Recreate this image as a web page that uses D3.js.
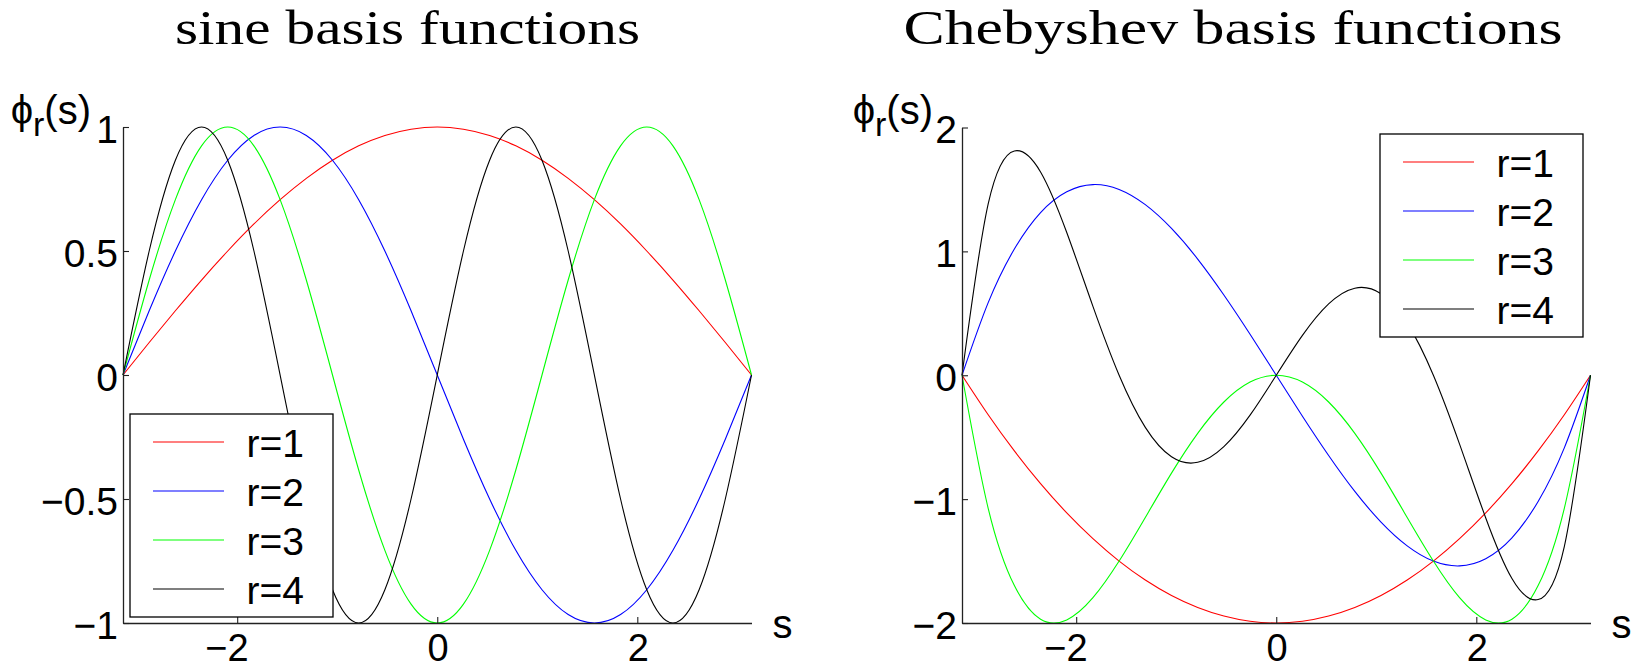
<!DOCTYPE html>
<html>
<head>
<meta charset="utf-8">
<script src="https://cdn.jsdelivr.net/npm/d3@7"></script>
<style>
  html, body { margin: 0; padding: 0; background: #ffffff; }
  svg { display: block; }
</style>
</head>
<body>
<svg id="fig" width="1637" height="669"></svg>
<script>
// Sample positions along s (from -pi to pi)
const sGrid = [-3.1416, -2.8798, -2.6180, -2.3562, -2.0944, -1.8326, -1.5708, -1.3090, -1.0472,
  -0.7854, -0.5236, -0.2618, 0, 0.2618, 0.5236, 0.7854, 1.0472, 1.3090, 1.5708, 1.8326, 2.0944,
  2.3562, 2.6180, 2.8798, 3.1416];

// Sine basis functions, r = 1..4
const sineR1 = [0, 0.131, 0.259, 0.383, 0.500, 0.609, 0.707, 0.793, 0.866, 0.924, 0.966, 0.991, 1.000,
  0.991, 0.966, 0.924, 0.866, 0.793, 0.707, 0.609, 0.500, 0.383, 0.259, 0.131, 0];
const sineR2 = [0, 0.259, 0.500, 0.707, 0.866, 0.966, 1.000, 0.966, 0.866, 0.707, 0.500, 0.259, 0,
  -0.259, -0.500, -0.707, -0.866, -0.966, -1.000, -0.966, -0.866, -0.707, -0.500, -0.259, 0];
const sineR3 = [0, 0.383, 0.707, 0.924, 1.000, 0.924, 0.707, 0.383, 0, -0.383, -0.707, -0.924, -1.000,
  -0.924, -0.707, -0.383, 0, 0.383, 0.707, 0.924, 1.000, 0.924, 0.707, 0.383, 0];
const sineR4 = [0, 0.500, 0.866, 1.000, 0.866, 0.500, 0, -0.500, -0.866, -1.000, -0.866, -0.500, 0,
  0.500, 0.866, 1.000, 0.866, 0.500, 0, -0.500, -0.866, -1.000, -0.866, -0.500, 0];

// Chebyshev basis functions, r = 1..4
const chebR1 = [0, -0.319, -0.611, -0.875, -1.111, -1.319, -1.500, -1.653, -1.778, -1.875, -1.944, -1.986, -2.000,
  -1.986, -1.944, -1.875, -1.778, -1.653, -1.500, -1.319, -1.111, -0.875, -0.611, -0.319, 0];
const chebR2 = [0, 0.586, 1.019, 1.313, 1.481, 1.539, 1.500, 1.377, 1.185, 0.938, 0.648, 0.331, 0,
  -0.331, -0.648, -0.938, -1.185, -1.377, -1.500, -1.539, -1.481, -1.313, -1.019, -0.586, 0];
const chebR3 = [0, -1.074, -1.698, -1.969, -1.975, -1.796, -1.500, -1.148, -0.790, -0.469, -0.216, -0.055, 0,
  -0.055, -0.216, -0.469, -0.790, -1.148, -1.500, -1.796, -1.975, -1.969, -1.698, -1.074, 0];
const chebR4 = [0, 1.383, 1.811, 1.641, 1.152, 0.556, 0, -0.421, -0.658, -0.703, -0.576, -0.322, 0,
  0.322, 0.576, 0.703, 0.658, 0.421, 0, -0.556, -1.152, -1.641, -1.811, -1.383, 0];

const seriesNames = ["r=1", "r=2", "r=3", "r=4"];
const seriesColors = ["#ff0000", "#0000ff", "#00ff00", "#000000"];

const xTicks = [-2, 0, 2];
const sineYTicks = [-1, -0.5, 0, 0.5, 1];
const chebYTicks = [-2, -1, 0, 1, 2];

const sDomain = [-Math.PI, Math.PI];
const sineYDomain = [-1, 1];
const chebYDomain = [-2, 2];

const panels = [
  {
    title: "sine basis functions",
    series: [sineR1, sineR2, sineR3, sineR4],
    yTicks: sineYTicks, yDomain: sineYDomain,
    left: 123, right: 751.5, top: 127, bottom: 623,
    titleX: 407.5, titleLen: 465,
    ylabelEnd: 91,
    legend: { x: 130, y: 414, w: 203, h: 203 }
  },
  {
    title: "Chebyshev basis functions",
    series: [chebR1, chebR2, chebR3, chebR4],
    yTicks: chebYTicks, yDomain: chebYDomain,
    left: 962, right: 1590.5, top: 127.5, bottom: 623,
    titleX: 1233, titleLen: 659,
    ylabelEnd: 933,
    legend: { x: 1380, y: 134, w: 203, h: 203 }
  }
];

const sansFont = "'Liberation Sans', Arial, Helvetica, sans-serif";
const serifFont = "'Liberation Serif', 'Times New Roman', serif";
const tickFont = 39;
const fmt = d => (d < 0 ? "\u2212" : "") + Math.abs(d);

const svg = d3.select("#fig");

panels.forEach(p => {
  const x = d3.scaleLinear().domain(sDomain).range([p.left, p.right]);
  const y = d3.scaleLinear().domain(p.yDomain).range([p.bottom, p.top]);
  const g = svg.append("g");

  // title
  g.append("text")
    .attr("x", p.titleX).attr("y", 44)
    .attr("text-anchor", "middle")
    .attr("font-family", serifFont)
    .attr("font-size", 48)
    .attr("textLength", p.titleLen)
    .attr("lengthAdjust", "spacingAndGlyphs")
    .attr("fill", "#000")
    .text(p.title);

  // curves
  const line = d3.line()
    .x((d, i) => x(sGrid[i]))
    .y(d => y(d))
    .curve(d3.curveNatural);
  p.series.forEach((vals, k) => {
    g.append("path")
      .attr("d", line(vals))
      .attr("fill", "none")
      .attr("stroke", seriesColors[k])
      .attr("stroke-width", 1.1);
  });

  // axes (left and bottom only, ticks pointing inward)
  const xAxis = d3.axisBottom(x).tickValues(xTicks).tickFormat(fmt)
    .tickSizeInner(-6).tickSizeOuter(0);
  const yAxis = d3.axisLeft(y).tickValues(p.yTicks).tickFormat(fmt)
    .tickSizeInner(-6).tickSizeOuter(0);

  const gx = g.append("g").attr("transform", `translate(0,${p.bottom})`).call(xAxis);
  const gy = g.append("g").attr("transform", `translate(${p.left},0)`).call(yAxis);

  [gx, gy].forEach(a => {
    a.attr("font-size", null).attr("font-family", null);
    a.select(".domain").attr("stroke", "#222").attr("stroke-width", 1.3);
    a.selectAll(".tick line").attr("stroke", "#222").attr("stroke-width", 1.1);
    a.selectAll("text")
      .attr("font-family", sansFont)
      .attr("font-size", tickFont)
      .attr("fill", "#000");
  });
  gx.selectAll("text")
    .attr("font-size", 38)
    .attr("text-anchor", "end")
    .attr("x", 11).attr("y", 38).attr("dy", null);
  gy.selectAll("text")
    .attr("text-anchor", "end")
    .attr("x", -5).attr("y", 0).attr("dy", 15);

  // x label
  g.append("text")
    .attr("x", p.right + 21).attr("y", p.bottom + 15)
    .attr("font-family", sansFont).attr("font-size", 40)
    .attr("fill", "#000")
    .text("s");

  // y label: phi_r(s)
  const yl = g.append("text")
    .attr("x", p.ylabelEnd).attr("y", 124)
    .attr("text-anchor", "end")
    .attr("font-family", sansFont).attr("font-size", 40)
    .attr("fill", "#000");
  yl.append("tspan").text("\u03D5");
  yl.append("tspan").attr("font-size", 34).attr("dy", 12).text("r");
  yl.append("tspan").attr("dy", -12).text("(s)");

  // legend
  const L = p.legend;
  const lg = g.append("g").attr("transform", `translate(${L.x},${L.y})`);
  lg.append("rect")
    .attr("width", L.w).attr("height", L.h)
    .attr("fill", "#fff").attr("stroke", "#000").attr("stroke-width", 1.3);
  seriesNames.forEach((name, k) => {
    const rowY = 28 + k * 49;
    lg.append("line")
      .attr("x1", 23).attr("x2", 94)
      .attr("y1", rowY).attr("y2", rowY)
      .attr("stroke", seriesColors[k]).attr("stroke-width", 1.1);
    lg.append("text")
      .attr("x", 116.5).attr("y", rowY + 14.5)
      .attr("font-family", sansFont).attr("font-size", tickFont)
      .attr("fill", "#000")
      .text(name);
  });
});
</script>
</body>
</html>
